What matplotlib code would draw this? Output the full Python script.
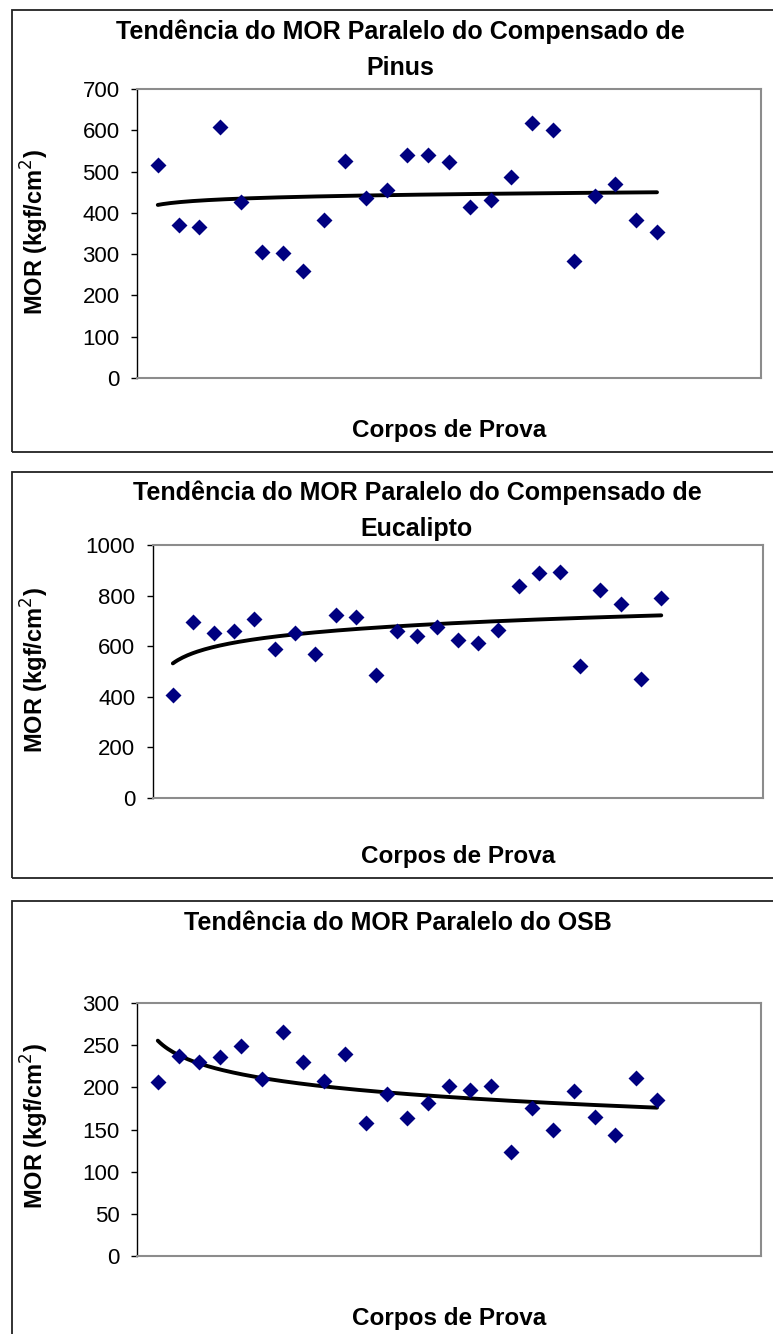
import numpy as np
import matplotlib
matplotlib.use("Agg")
import matplotlib.pyplot as plt
from matplotlib.patches import Rectangle

plt.rcParams['font.family'] = ['Liberation Sans', 'DejaVu Sans']

corpos = list(range(1, 26))
mor_pinus = [516, 371, 365, 607, 427, 305, 302, 258, 383, 525, 436, 455, 539,
             539, 522, 414, 430, 488, 618, 601, 283, 442, 471, 383, 353]
mor_eucalipto = [407, 694, 651, 661, 709, 588, 652, 568, 723, 714, 487, 659, 639,
                 675, 623, 614, 663, 837, 891, 895, 523, 822, 768, 469, 791]
mor_osb = [206, 237, 230, 236, 249, 210, 266, 230, 207, 240, 158, 192, 164,
           181, 201, 197, 201, 123, 175, 149, 196, 165, 143, 211, 185]

titles = ["Tendência do MOR Paralelo do Compensado de\nPinus",
          "Tendência do MOR Paralelo do Compensado de\nEucalipto",
          "Tendência do MOR Paralelo do OSB"]
yticks_list = [[0, 100, 200, 300, 400, 500, 600, 700],
               [0, 200, 400, 600, 800, 1000],
               [0, 50, 100, 150, 200, 250, 300]]
ylabel = "MOR (kgf/cm$^2$)"
xlabel = "Corpos de Prova"

W, H = 773, 1334
fig = plt.figure(figsize=(W / 100, H / 100), dpi=100)

def fx(px):
    return px / W

def fy(py):
    return 1 - py / H

layouts = [
    dict(l=137, r=761, t=89, b=378, pt=10, pb=452, title_y=49.5, title_x=400,
         yl=(35, 232), xl=(449, 431)),
    dict(l=152.5, r=763, t=545, b=798, pt=472, pb=878, title_y=510.5, title_x=417,
         yl=(35, 670), xl=(458, 856)),
    dict(l=137, r=761, t=1003, b=1256, pt=901, pb=1345, title_y=923, title_x=398,
         yl=(35, 1126), xl=(449, 1318)),
]

datasets = [mor_pinus, mor_eucalipto, mor_osb]

for i, (lay, vals) in enumerate(zip(layouts, datasets)):
    fig.patches.append(Rectangle((fx(12), fy(lay['pb'])), fx(800 - 12),
                                 fy(lay['pt']) - fy(lay['pb']),
                                 transform=fig.transFigure, fill=False,
                                 edgecolor='#222222', linewidth=1.3, zorder=0))
    ax = fig.add_axes([fx(lay['l']), fy(lay['b']), fx(lay['r'] - lay['l']),
                       fy(lay['t']) - fy(lay['b'])])
    x = np.array(corpos, dtype=float)
    y = np.array(vals, dtype=float)
    ax.scatter(x, y, marker='D', s=66, color='#000080', zorder=3, linewidths=0)
    # logarithmic trend line (least squares fit on ln x)
    a, b = np.polyfit(np.log(x), y, 1)
    xt = np.linspace(1, 25, 200)
    ax.plot(xt, a * np.log(xt) + b, color='black', linewidth=2.8, zorder=2,
            solid_capstyle='round')
    yt = yticks_list[i]
    ax.set_xlim(0, 30)
    ax.set_ylim(yt[0], yt[-1])
    ax.set_yticks(yt)
    ax.set_yticklabels([str(v) for v in yt], fontsize=16)
    ax.set_xticks([])
    ax.tick_params(axis='y', direction='out', length=4.5, width=1, pad=8)
    for s in ['top', 'right', 'bottom']:
        ax.spines[s].set_color('#8c8c8c')
        ax.spines[s].set_linewidth(1.5)
    ax.spines['left'].set_color('black')
    ax.spines['left'].set_linewidth(1.0)
    fig.text(fx(lay['title_x']), fy(lay['title_y']), titles[i], ha='center',
             va='center', fontsize=18, fontweight='bold', linespacing=1.65)
    fig.text(fx(lay['yl'][0]), fy(lay['yl'][1]), ylabel, ha='center', va='center',
             rotation=90, fontsize=17, fontweight='bold')
    fig.text(fx(lay['xl'][0]), fy(lay['xl'][1]), xlabel, ha='center', va='center',
             fontsize=17.5, fontweight='bold')

fig.savefig("out.png", dpi=100)
